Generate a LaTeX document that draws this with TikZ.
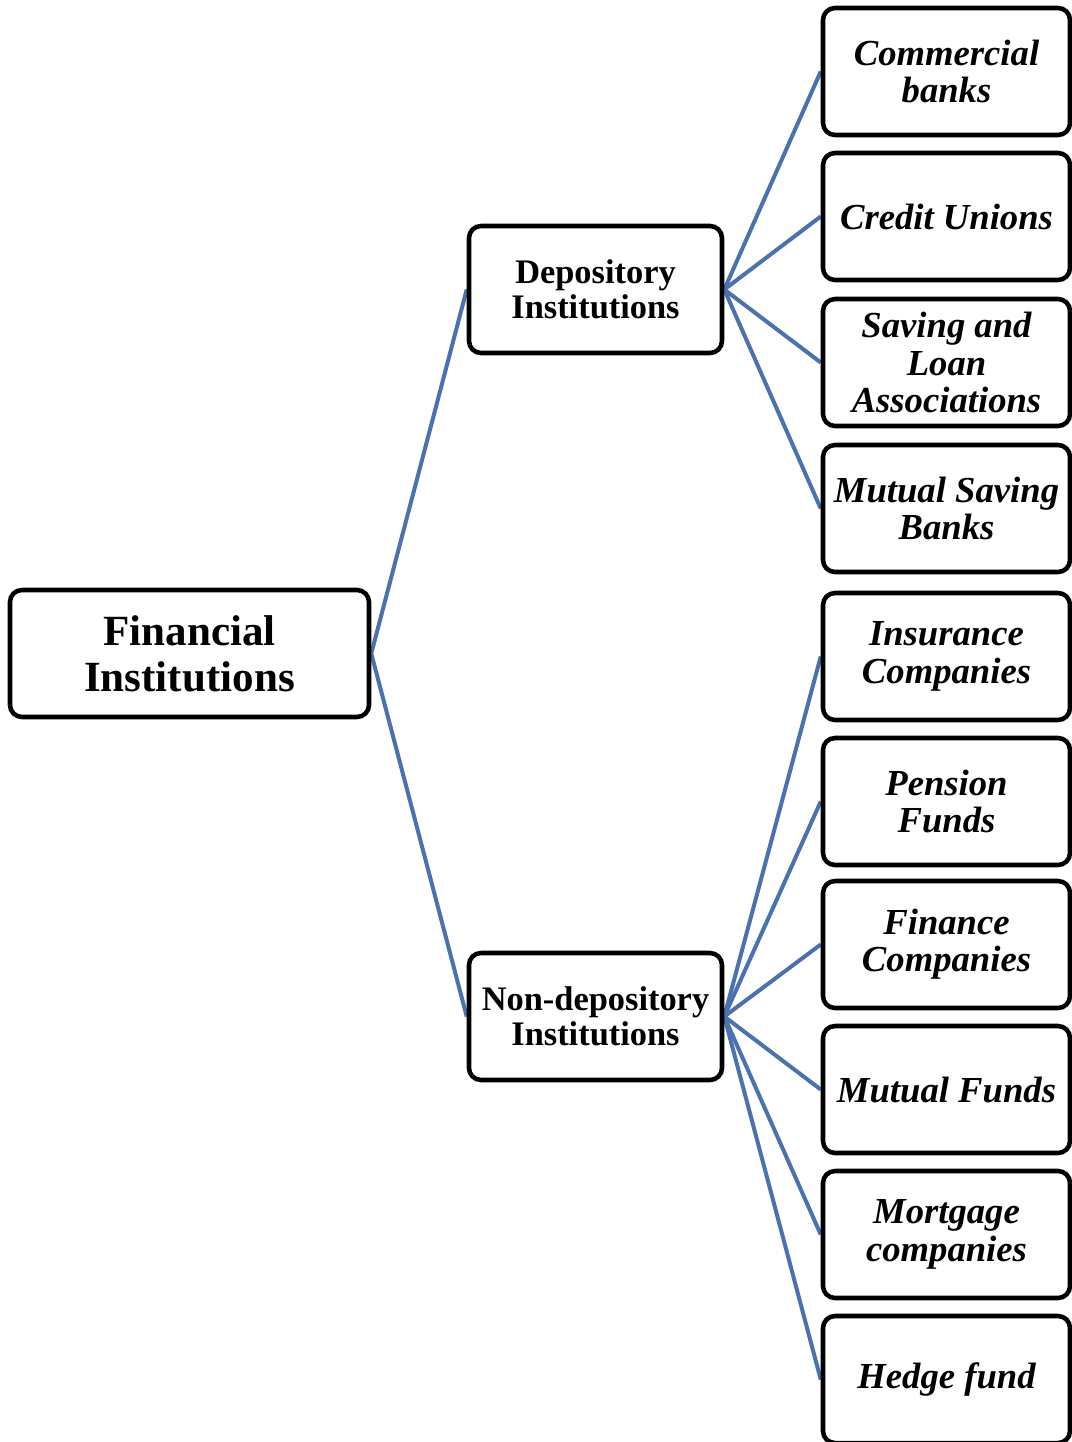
\documentclass[tikz,border=0pt]{standalone}
\usepackage{fontspec}
\setmainfont{Liberation Serif}
\usetikzlibrary{backgrounds}
\definecolor{linkblue}{RGB}{74,114,176}
\begin{document}
\begin{tikzpicture}[x=0.75pt,y=-0.75pt,
  box/.style={draw=black, line width=3.4pt, rounded corners=9pt, align=center,
    inner sep=0pt, minimum height=95.25pt},
  rootbox/.style={box, minimum width=269.25pt,
    font=\fontsize{32.3}{34.5}\selectfont\bfseries},
  midbox/.style={box, minimum width=189.75pt,
    font=\fontsize{25.8}{26.3}\selectfont\bfseries},
  leafbox/.style={box, minimum width=185.25pt,
    font=\fontsize{27.5}{28}\selectfont\bfseries\itshape},
  link/.style={draw=linkblue, line width=3pt}]
\useasboundingbox (0,0) rectangle (1071,1442);

% root and the two main groups
\node[rootbox] (fi) at (189.5,653.5) {Financial\\Institutions};
\node[midbox] (dep) at (595.5,289.5) {Depository\\Institutions};
\node[midbox] (nondep) at (595.5,1016.5) {Non-depository\\Institutions};

% depository institutions
\node[leafbox] (cb)  at (946.5,71.5)  {Commercial\\banks};
\node[leafbox] (cu)  at (946.5,216.5) {Credit Unions};
\node[leafbox] (sl)  at (946.5,362.5) {Saving and\\Loan\\Associations};
\node[leafbox] (msb) at (946.5,508.5) {Mutual Saving\\Banks};

% non-depository institutions
\node[leafbox] (ic)  at (946.5,656.5)  {Insurance\\Companies};
\node[leafbox] (pf)  at (946.5,801.5)  {Pension\\Funds};
\node[leafbox] (fc)  at (946.5,944.5)  {Finance\\Companies};
\node[leafbox] (mf)  at (946.5,1089.5) {Mutual Funds};
\node[leafbox] (mc)  at (946.5,1234.5) {Mortgage\\companies};
\node[leafbox] (hf)  at (946.5,1379.5) {Hedge fund};

\begin{scope}[on background layer]
  \draw[link] (fi.east) -- (dep.west);
  \draw[link] (fi.east) -- (nondep.west);
  \foreach \n in {cb,cu,sl,msb}
    \draw[link] (dep.east) -- (\n.west);
  \foreach \n in {ic,pf,fc,mf,mc,hf}
    \draw[link] (nondep.east) -- (\n.west);
\end{scope}
\end{tikzpicture}
\end{document}
